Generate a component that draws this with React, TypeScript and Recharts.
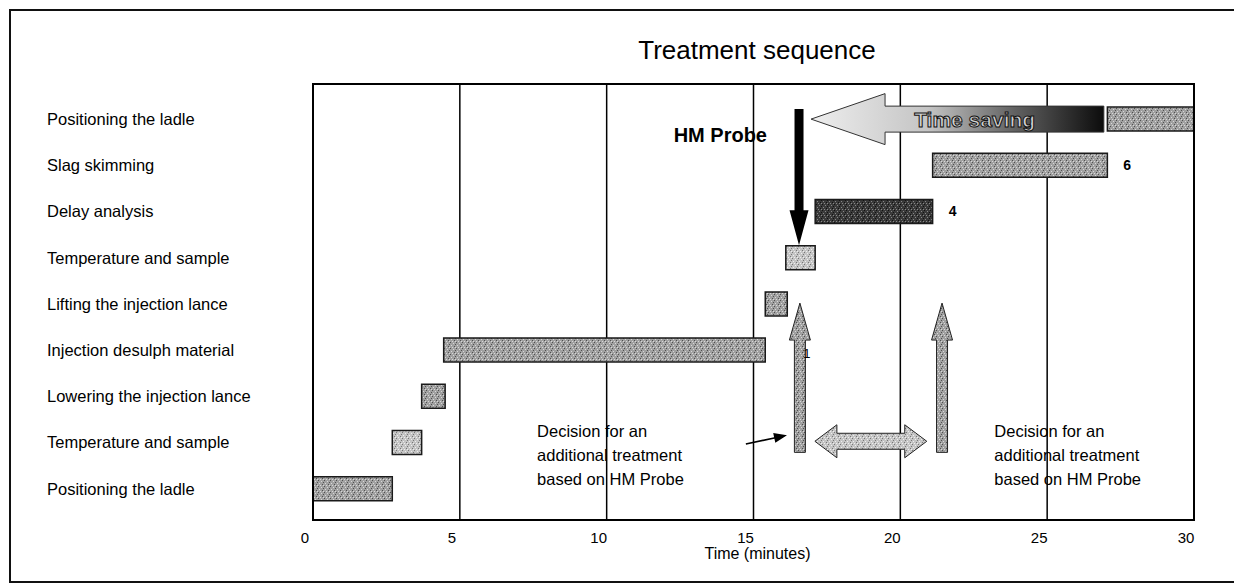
import React from "react";
import {
  BarChart, Bar, XAxis, YAxis, CartesianGrid, ReferenceLine, ReferenceArea, LabelList, Cell, ScatterChart, Scatter,
} from "recharts";

// rows from top to bottom
const tasks = [
  "Positioning the ladle",
  "Slag skimming",
  "Delay analysis",
  "Temperature and sample",
  "Lifting the injection lance",
  "Injection desulph material",
  "Lowering the injection lance",
  "Temperature and sample",
  "Positioning the ladle",
];
const startMin = [27.05, 21.1, 17.1, 16.1, 15.4, 4.45, 3.7, 2.7, 0];
const endMin = [30, 27.05, 21.1, 17.1, 16.15, 15.4, 4.5, 3.7, 2.7];
const durNotes = ["", "6", "4", "", "", "", "", "", ""];
const xTicks = [0, 5, 10, 15, 20, 25, 30];

// bar textures (style, per row)
const rowTex = ["texMid", "texMid", "texDark", "texLight", "texMid", "texMid", "texMid", "texLight", "texMid"];

// annotations, in minutes / row units (0 = top of first row)
const probeArrow = { min: 16.55, rows: [0.28, 3.23] };
const savingArrow = { mins: [26.93, 16.96], row: 0.5 };
const decisionArrows = { mins: [16.58, 21.42], rows: [7.71, 4.48] };
const waitArrow = { mins: [17.09, 20.9], row: 7.47 };
const pointerArrow = { mins: [14.74, 16.14], rows: [7.53, 7.34] };
const decisionText = ["Decision for an", "additional treatment", "based on HM Probe"];
const notes = [
  { kind: "probe", text: "HM Probe", min: 15.46, row: 1.0 },
  { kind: "saving", text: "Time saving", min: 22.53, row: 0.5 },
  { kind: "inj", text: "1", min: 16.82, row: 5.58 },
  { kind: "decision", text: decisionText.join(" "), min: 7.63, row: 7.38 },
  { kind: "decision", text: decisionText.join(" "), min: 23.2, row: 7.38 },
];

const data = tasks.map((t, i) => ({
  row: String(i),
  task: t,
  offset: startMin[i],
  dur: +(endMin[i] - startMin[i]).toFixed(2),
  note: durNotes[i],
}));

const rowDomain: [number, number] = [-12 / 46.2, 9 + 8 / 46.2];
const FONT = "'Liberation Sans', Arial, sans-serif";
const plotMargin = { top: 84, right: 40, bottom: 64, left: 313 };

function arrowPoints(x1: number, y1: number, x2: number, y2: number, sw: number, hw: number, hl: number) {
  const dx = x2 - x1, dy = y2 - y1;
  const len = Math.hypot(dx, dy) || 1;
  const ux = dx / len, uy = dy / len;
  const nx = -uy, ny = ux;
  const bx = x2 - ux * hl, by = y2 - uy * hl;
  const pts = [
    [x1 + (nx * sw) / 2, y1 + (ny * sw) / 2],
    [bx + (nx * sw) / 2, by + (ny * sw) / 2],
    [bx + (nx * hw) / 2, by + (ny * hw) / 2],
    [x2, y2],
    [bx - (nx * hw) / 2, by - (ny * hw) / 2],
    [bx - (nx * sw) / 2, by - (ny * sw) / 2],
    [x1 - (nx * sw) / 2, y1 - (ny * sw) / 2],
  ];
  return pts.map((p) => p.join(",")).join(" ");
}

function doubleArrowPoints(x1: number, x2: number, y: number, sw: number, hw: number, hl: number) {
  const pts = [
    [x1, y], [x1 + hl, y - hw / 2], [x1 + hl, y - sw / 2], [x2 - hl, y - sw / 2], [x2 - hl, y - hw / 2],
    [x2, y], [x2 - hl, y + hw / 2], [x2 - hl, y + sw / 2], [x1 + hl, y + sw / 2], [x1 + hl, y + hw / 2],
  ];
  return pts.map((p) => p.join(",")).join(" ");
}

const RowTick = (props: any) => {
  const { y, payload } = props;
  return (
    <text x={47} y={y} dy="0.35em" fontSize={16.5} fontFamily={FONT} fill="#000" textAnchor="start">
      {tasks[Number(payload.value)]}
    </text>
  );
};

const NoteShape = (props: any) => {
  const { cx, cy, payload } = props;
  if (payload.kind === "probe")
    return <text x={cx} y={cy} textAnchor="end" fontSize={20} fontWeight="bold" fontFamily={FONT} fill="#000">{payload.text}</text>;
  if (payload.kind === "saving")
    return (
      <text x={cx} y={cy} dy="0.36em" textAnchor="middle" fontSize={21} fontWeight="bold" fontFamily={FONT}
        fill="#d0d0d0" stroke="#111" strokeWidth={1}>{payload.text}</text>
    );
  if (payload.kind === "inj")
    return <text x={cx} y={cy} dy="0.35em" textAnchor="middle" fontSize={13} fontFamily={FONT} fill="#000">{payload.text}</text>;
  return (
    <text x={cx} y={cy} fontSize={16.5} fontFamily={FONT} fill="#000">
      {decisionText.map((line, i) => (
        <tspan key={i} x={cx} dy={i === 0 ? 0 : 24}>{line}</tspan>
      ))}
    </text>
  );
};

const Tex = ({ id, base, dark, light }: { id: string; base: string; dark: string; light: string }) => (
  <pattern id={id} width="6" height="6" patternUnits="userSpaceOnUse">
    <rect width="6" height="6" fill={base} />
    <rect x="0" y="0" width="1" height="1" fill={dark} />
    <rect x="3" y="1" width="1" height="1" fill={light} />
    <rect x="5" y="2" width="1" height="1" fill={dark} />
    <rect x="1" y="3" width="1" height="1" fill={light} />
    <rect x="4" y="4" width="1" height="1" fill={dark} />
    <rect x="2" y="5" width="1" height="1" fill={light} />
    <rect x="5" y="5" width="1" height="1" fill={light} />
  </pattern>
);

export default function App() {
  return (
    <div style={{ position: "relative", width: 1234, height: 584, overflow: "hidden", background: "#fff" }}>
      <style>{"body{margin:0}"}</style>
      <svg width="0" height="0" style={{ position: "absolute" }}>
        <defs>
          <Tex id="texMid" base="#a0a0a0" dark="#505050" light="#d8d8d8" />
          <Tex id="texLight" base="#c4c4c4" dark="#777" light="#eee" />
          <Tex id="texDark" base="#3a3a3a" dark="#111" light="#888" />
          <linearGradient id="saveGrad" x1="0" y1="0" x2="1" y2="0">
            <stop offset="0" stopColor="#eeeeee" />
            <stop offset="0.4" stopColor="#c4c4c4" />
            <stop offset="0.7" stopColor="#606060" />
            <stop offset="1" stopColor="#0c0c0c" />
          </linearGradient>
        </defs>
      </svg>
      <div style={{
        position: "absolute", left: 9, top: 9, width: 1250, height: 570,
        borderLeft: "2px solid #111", borderTop: "2px solid #111", borderBottom: "2px solid #111", borderRight: "none",
      }} />
      <div
        style={{
          position: "absolute", left: 757, top: 37, transform: "translateX(-50%)", fontFamily: FONT,
          fontSize: 26, lineHeight: "26px", whiteSpace: "nowrap", color: "#000",
        }}
      >
        Treatment sequence
      </div>
      <div style={{ position: "absolute", left: 0, top: 0 }}>
        <BarChart width={1234} height={584} data={data} layout="vertical" barSize={24}
          margin={{ top: 84, right: 40, bottom: 24, left: 0 }}>
          <CartesianGrid horizontal={false} stroke="#000" strokeWidth={1.5} />
          <XAxis type="number" dataKey="dur" domain={[0, 30]} ticks={xTicks} allowDataOverflow
            tickLine={false} axisLine={false} height={40} tickMargin={6}
            tick={{ fontSize: 15, fill: "#000", fontFamily: FONT, dx: -8 }}
            label={{ value: "Time (minutes)", position: "insideBottom", offset: 1, fontSize: 16, fill: "#000", fontFamily: FONT, dx: 4 }} />
          <YAxis type="category" dataKey="row" width={313} tickLine={false} axisLine={false}
            padding={{ top: 12, bottom: 8 }} tick={<RowTick />} interval={0} />
          <Bar dataKey="offset" stackId="a" fill="transparent" isAnimationActive={false} />
          <Bar dataKey="dur" stackId="a" isAnimationActive={false}>
            {data.map((d, i) => (
              <Cell key={d.row} fill={`url(#${rowTex[i]})`} stroke="#1a1a1a" strokeWidth={1.5} />
            ))}
            <LabelList dataKey="note" position="right" offset={16} fontSize={14} fontWeight="bold" fill="#000" fontFamily={FONT} />
          </Bar>
        </BarChart>
      </div>

      {/* annotation layer: same plot area, minutes across, rows down */}
      <div style={{ position: "absolute", left: 0, top: 0 }}>
        <ScatterChart width={1234} height={584} margin={plotMargin}>
          <XAxis type="number" dataKey="min" domain={[0, 30]} hide allowDataOverflow />
          <YAxis type="number" dataKey="row" domain={rowDomain} reversed hide allowDataOverflow />
          <ReferenceArea x1={0} x2={30} y1={rowDomain[0]} y2={rowDomain[1]}
            fill="none" fillOpacity={0} stroke="#000" strokeWidth={2} ifOverflow="visible" />
          {/* time saving arrow */}
          <ReferenceLine ifOverflow="visible"
            segment={[{ x: savingArrow.mins[0], y: savingArrow.row }, { x: savingArrow.mins[1], y: savingArrow.row }]}
            shape={(p: any) => (
              <polygon points={arrowPoints(p.x1, p.y1, p.x2, p.y2, 26, 51, 74)} fill="url(#saveGrad)" stroke="#333" strokeWidth={1} />
            )} />
          {/* HM probe arrow */}
          <ReferenceLine ifOverflow="visible"
            segment={[{ x: probeArrow.min, y: probeArrow.rows[0] }, { x: probeArrow.min, y: probeArrow.rows[1] }]}
            shape={(p: any) => <polygon points={arrowPoints(p.x1, p.y1, p.x2, p.y2, 9, 19, 35)} fill="#000" />} />
          {/* decision arrows */}
          {decisionArrows.mins.map((m) => (
            <ReferenceLine key={m} ifOverflow="visible"
              segment={[{ x: m, y: decisionArrows.rows[0] }, { x: m, y: decisionArrows.rows[1] }]}
              shape={(p: any) => (
                <polygon points={arrowPoints(p.x1, p.y1, p.x2, p.y2, 11, 21, 37)} fill="url(#texMid)" stroke="#222" strokeWidth={1} />
              )} />
          ))}
          {/* waiting double arrow */}
          <ReferenceLine ifOverflow="visible"
            segment={[{ x: waitArrow.mins[0], y: waitArrow.row }, { x: waitArrow.mins[1], y: waitArrow.row }]}
            shape={(p: any) => (
              <polygon points={doubleArrowPoints(p.x1, p.x2, p.y1, 16, 33, 22)} fill="url(#texLight)" stroke="#222" strokeWidth={1} />
            )} />
          {/* pointer */}
          <ReferenceLine ifOverflow="visible"
            segment={[{ x: pointerArrow.mins[0], y: pointerArrow.rows[0] }, { x: pointerArrow.mins[1], y: pointerArrow.rows[1] }]}
            shape={(p: any) => <polygon points={arrowPoints(p.x1, p.y1, p.x2, p.y2, 1.6, 10, 13)} fill="#000" />} />
          <Scatter data={notes} shape={NoteShape} isAnimationActive={false} />
        </ScatterChart>
      </div>
    </div>
  );
}
